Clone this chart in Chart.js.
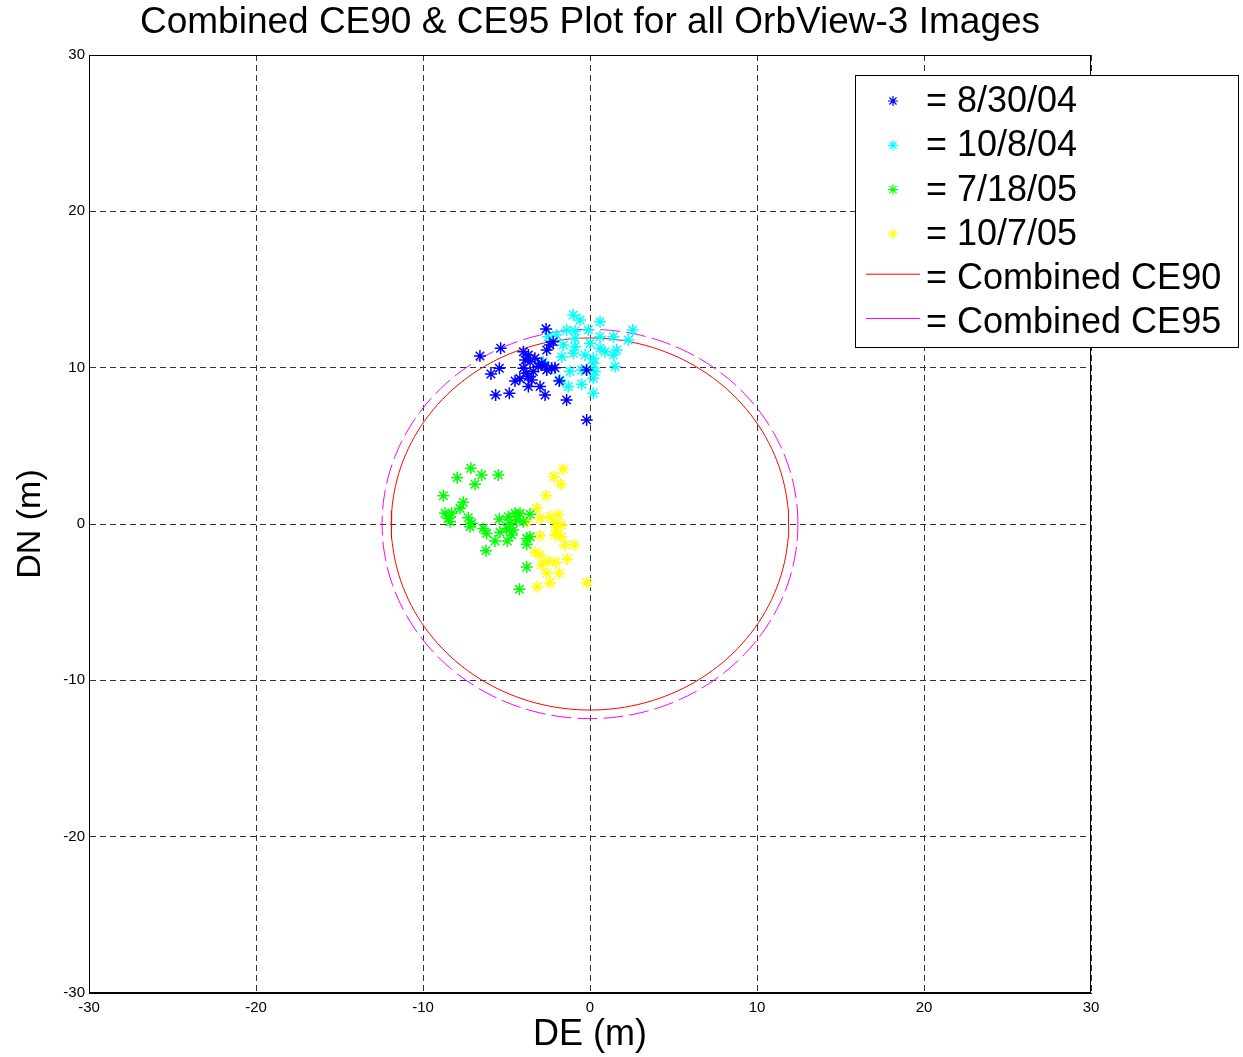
<!DOCTYPE html>
<html>
<head>
<meta charset="utf-8">
<script src="https://cdn.jsdelivr.net/npm/chart.js@4/dist/chart.umd.min.js"></script>
<style>
  html, body { margin: 0; padding: 0; background: #fff; }
  #wrap { width: 1243px; height: 1057px; }
</style>
</head>
<body>
<div id="wrap"><canvas id="grafica"></canvas></div>
<script>
// Valores (DE, DN en metros)
const pts083004 = [
  [-6.59, 10.75], [-5.35, 11.24], [-2.63, 12.48], [-5.93, 9.6], [-5.43, 9.96],
  [-5.65, 8.25], [-4.83, 8.36], [-4.49, 9.15], [-3.99, 11.02], [-3.69, 10.81],
  [-3.89, 10.49], [-3.59, 10.38], [-3.99, 9.96], [-3.79, 9.64], [-3.69, 9.43],
  [-3.39, 9.75], [-3.1, 10.07], [-2.89, 10.28], [-2.59, 9.85], [-2.29, 9.96],
  [-2.1, 10.0], [-2.99, 8.79], [-2.69, 8.25], [-3.69, 8.79], [-1.4, 7.93],
  [-1.84, 9.15], [-2.59, 11.13], [-2.4, 11.45], [-2.2, 11.66], [-0.2, 9.85],
  [-0.2, 6.65], [-3.49, 9.21], [-4.2, 9.3], [-3.3, 10.6], [-2.7, 10.1]
];
const pts100804 = [
  [-1.0, 13.37], [-0.6, 13.05], [0.6, 12.94], [2.56, 12.41], [-1.4, 12.41],
  [-0.9, 12.35], [-0.1, 12.41], [-2.0, 12.09], [-2.5, 11.98], [-0.9, 11.88],
  [0.6, 11.98], [1.4, 11.98], [2.29, 11.77], [-1.6, 11.45], [0.0, 11.56],
  [0.6, 11.24], [0.9, 11.02], [1.6, 11.13], [1.4, 10.81], [-1.0, 10.92],
  [-0.3, 10.81], [-1.69, 10.7], [0.2, 10.6], [0.2, 10.28], [-1.2, 9.75],
  [-0.5, 9.85], [1.5, 10.07], [0.3, 9.75], [-1.8, 9.21], [-1.3, 8.79],
  [-0.5, 8.94], [0.2, 9.32], [0.2, 8.36], [-2.8, 10.38], [-0.9, 11.34]
];
const pts071805 = [
  [-7.14, 3.56], [-7.95, 2.96], [-6.49, 3.13], [-5.49, 3.13], [-6.89, 2.54],
  [-8.78, 1.81], [-7.59, 1.39], [-7.78, 1.0], [-8.68, 0.68], [-8.28, 0.68],
  [-8.48, 0.36], [-8.38, 0.15], [-7.29, 0.4], [-7.08, 0.04], [-7.19, -0.17],
  [-6.39, -0.28], [-6.19, -0.6], [-5.43, 0.32], [-4.89, 0.47], [-4.49, 0.68],
  [-4.19, 0.68], [-3.59, 0.62], [-4.79, 0.04], [-4.99, -0.28], [-4.59, -0.38],
  [-5.39, -0.53], [-4.69, -0.7], [-5.69, -1.09], [-4.95, -1.09], [-3.79, -0.92],
  [-3.59, -0.81], [-3.79, -1.3], [-6.23, -1.71], [-3.79, -2.75], [-4.23, -4.18],
  [-4.39, 0.26], [-3.99, 0.15]
];
const pts100705 = [
  [-1.6, 3.5], [-2.16, 3.03], [-1.75, 2.54], [-2.63, 1.81], [-3.19, 1.0],
  [-2.99, 0.36], [-2.4, 0.47], [-1.9, 0.58], [-2.1, 0.04], [-1.7, -0.06],
  [-1.99, -0.38], [-2.1, -0.7], [-1.7, -0.81], [-2.99, -0.75], [-1.5, -1.34],
  [-0.94, -1.34], [-3.29, -1.81], [-2.99, -1.98], [-1.36, -2.24], [-2.5, -2.37],
  [-2.04, -2.45], [-2.89, -2.62], [-2.59, -3.15], [-1.84, -3.15], [-2.4, -3.75],
  [-3.15, -4.01], [-0.2, -3.75], [-3.79, 0.15]
];

const etiquetas = ['= 8/30/04', '= 10/8/04', '= 7/18/05', '= 10/7/05', '= Combined CE90', '= Combined CE95'];
const colores = ['#0000ff', '#00ffff', '#00ff00', '#ffff00', '#ff0000', '#ff00ff'];
const ticksEje = [-30, -20, -10, 0, 10, 20, 30];

const radioCE90 = 11.9;
const radioCE95 = 12.45;

const FUENTE = "'Liberation Sans', Arial, Helvetica, sans-serif";

function aXY(lista) {
  return lista.map(([x, y]) => ({ x, y }));
}

// circulo a partir del radio
function circulo(r) {
  const out = [];
  for (let i = 0; i <= 360; i += 2) {
    const a = i * Math.PI / 180;
    out.push({ x: r * Math.cos(a), y: r * Math.sin(a) });
  }
  return out;
}

function serieEstrella(datos, color) {
  return {
    type: 'scatter',
    data: aXY(datos),
    pointStyle: 'star',
    pointRadius: 6,
    pointBorderWidth: 1.5,
    borderColor: color,
    backgroundColor: color,
    showLine: false
  };
}

const datasets = [
  serieEstrella(pts083004, colores[0]),
  serieEstrella(pts100804, colores[1]),
  serieEstrella(pts071805, colores[2]),
  serieEstrella(pts100705, colores[3]),
  {
    type: 'scatter', data: circulo(radioCE90), showLine: true, pointRadius: 0,
    borderColor: colores[4], borderWidth: 1, fill: false
  },
  {
    type: 'scatter', data: circulo(radioCE95), showLine: true, pointRadius: 0,
    borderColor: colores[5], borderWidth: 1, borderDash: [20, 6], fill: false
  }
];

// leyenda dibujada a mano (sobresale del area del grafico)
const leyendaPlugin = {
  id: 'leyendaManual',
  afterDraw(chart) {
    const ctx = chart.ctx;
    const x0 = 855, y0 = 75, w = 383, h = 272;
    ctx.save();
    ctx.fillStyle = '#fff';
    ctx.fillRect(x0, y0, w, h);
    ctx.strokeStyle = '#000';
    ctx.lineWidth = 1;
    ctx.strokeRect(x0 + 0.5, y0 + 0.5, w, h);
    ctx.font = '36px ' + FUENTE;
    ctx.textBaseline = 'middle';
    ctx.textAlign = 'left';
    etiquetas.forEach((txt, i) => {
      const y = 101 + i * 44.3;
      if (i < 4) {
        ctx.strokeStyle = colores[i];
        ctx.fillStyle = colores[i];
        ctx.lineWidth = 1.2;
        Chart.helpers.drawPoint(ctx, { pointStyle: 'star', radius: 5, borderWidth: 1.2 }, 893, y);
      } else {
        ctx.strokeStyle = colores[i];
        ctx.lineWidth = 1;
        ctx.setLineDash([]);
        ctx.beginPath();
        ctx.moveTo(866, y - 4);
        ctx.lineTo(920, y - 4);
        ctx.stroke();
      }
      ctx.fillStyle = '#000';
      ctx.fillText(txt, 926, y + 1);
    });
    ctx.restore();
  }
};

const ctx = document.getElementById('grafica').getContext('2d');
new Chart(ctx, {
  type: 'scatter',
  data: { datasets },
  options: {
    responsive: true,
    maintainAspectRatio: false,
    animation: false,
    layout: { padding: { left: 0, right: 152, top: 0, bottom: 0 } },
    plugins: {
      legend: { display: false },
      tooltip: { enabled: false },
      title: {
        display: true,
        fullSize: false,
        text: 'Combined CE90 & CE95 Plot for all OrbView-3 Images',
        color: '#000',
        font: { family: FUENTE, size: 37, weight: 'normal' },
        padding: { top: 1, bottom: 9.6 }
      }
    },
    scales: {
      x: {
        type: 'linear', min: -30, max: 30,
        afterFit(scale) { scale.height = 64; },
        afterBuildTicks(scale) { scale.ticks = ticksEje.map(v => ({ value: v })); },
        ticks: { color: '#000', font: { family: FUENTE, size: 15 }, padding: 6, maxRotation: 0 },
        grid: { color: '#333', lineWidth: 1, drawTicks: false },
        border: { display: true, color: '#000', width: 1, dash: [6, 4] },
        title: {
          display: true, text: 'DE (m)', color: '#000',
          font: { family: FUENTE, size: 36 }, padding: { top: 0, bottom: 0 }
        }
      },
      y: {
        type: 'linear', min: -30, max: 30,
        afterFit(scale) { scale.width = 89; },
        afterBuildTicks(scale) { scale.ticks = ticksEje.map(v => ({ value: v })); },
        ticks: { color: '#000', font: { family: FUENTE, size: 15 }, padding: 4 },
        grid: { color: '#333', lineWidth: 1, drawTicks: false },
        border: { display: true, color: '#000', width: 1, dash: [6, 4] },
        title: {
          display: true, text: 'DN (m)', color: '#000',
          font: { family: FUENTE, size: 34 }, padding: { top: 10, bottom: 0 }
        }
      }
    }
  },
  plugins: [leyendaPlugin, {
    id: 'marco',
    beforeDatasetsDraw(chart) {
      const { left, right, top, bottom } = chart.chartArea;
      const c = chart.ctx;
      c.save();
      c.strokeStyle = '#000';
      c.lineWidth = 1;
      c.setLineDash([]);
      c.strokeRect(left + 0.5, top + 0.5, right - left - 1, bottom - top - 1);
      c.restore();
    }
  }]
});
</script>
</body>
</html>
